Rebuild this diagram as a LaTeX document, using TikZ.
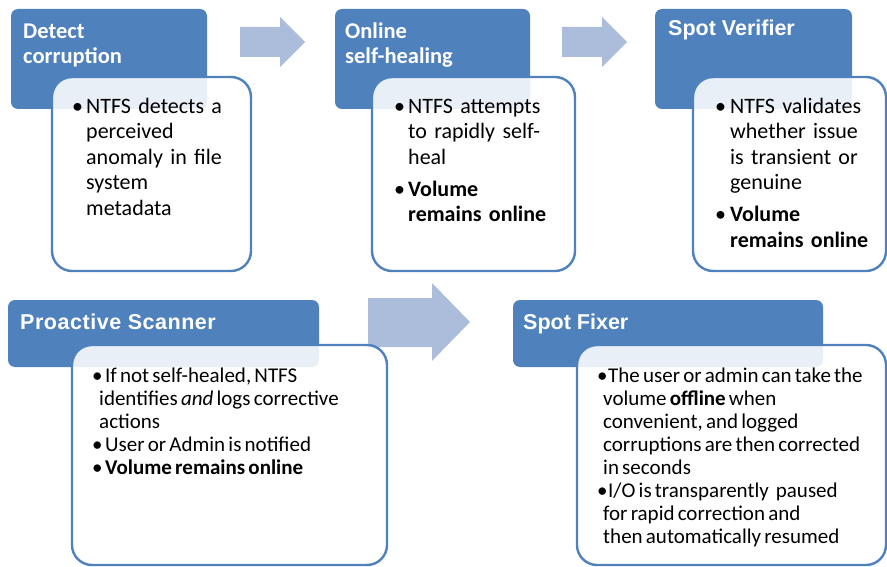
\documentclass[tikz,border=0pt]{standalone}
\usepackage{fontspec}
\setmainfont{Carlito}
\newfontfamily\hdfont{Liberation Sans}
\usepackage{xcolor}

\definecolor{hdblue}{RGB}{79,129,189}
\definecolor{flowblue}{RGB}{172,189,220}

% bullet item: bullet box width, hanging indent, text
\newcommand{\bitem}[3]{\hangindent=#2\hangafter=1\noindent\makebox[#1][l]{\strut\textbullet}#3\par}
\newcommand{\nl}{\hfil\break}

\tikzset{
	head/.style={fill=hdblue, rounded corners=7pt},
	card/.style={draw=hdblue, line width=2.4pt, fill=white, fill opacity=0.88, rounded corners=20pt},
	flow/.style={fill=flowblue},
	title/.style={text=white, anchor=north west, inner sep=0pt, align=left,
		font=\fontsize{22.5}{25}\selectfont\bfseries},
	wtitle/.style={title, font=\hdfont\fontsize{21.5}{25}\selectfont\bfseries},
	body/.style={anchor=north west, inner sep=0pt, text width=#1, align=left,
		font=\fontsize{22}{25.5}\selectfont,
		execute at begin node={\setlength{\parskip}{6.5pt}}},
	smallbody/.style={body=#1, font=\fontsize{21}{23}\selectfont,
		execute at begin node={\setlength{\parskip}{0pt}\spaceskip=3.2pt plus 1pt minus 1pt}}
}

\begin{document}
\begin{tikzpicture}[x=1pt, y=-1pt]
		\useasboundingbox (0,0) rectangle (887,567);
		% title blocks
		\fill[head] (11,9) rectangle (207,109);
		\fill[head] (335,9) rectangle (530,109);
		\fill[head] (655,9) rectangle (852,109);
		\fill[head] (8,300) rectangle (319,367);
		\fill[head] (513,300) rectangle (823,367);
		% step arrows
		\foreach \dx in {0,322}
			\fill[flow, xshift=\dx] (240,27) -- (280,27) -- (280,17) -- (305,42)
				-- (280,67) -- (280,57) -- (240,57) -- cycle;
		\fill[flow] (368,298) -- (432,298) -- (432,283) -- (470,322)
			-- (432,361) -- (432,347) -- (368,347) -- cycle;
		% text cards
		\draw[card] (52,77) rectangle (251,271);
		\draw[card] (372,77) rectangle (575,271);
		\draw[card] (693,77) rectangle (886,271);
		\draw[card] (72,345) rectangle (387,565);
		\draw[card] (577,345) rectangle (886,565);
		% titles
		\node[title] (detect) at (23,20.5) {\strut Detect\\corruption};
		\node[title] (heal) at (345,20.5) {\strut Online\\self-healing};
		\node[wtitle] (verify) at (668,17.5) {\strut Spot Verifier};
		\node[wtitle] (scan) at (20,311.5) {\addfontfeature{LetterSpace=2.5}\strut Proactive Scanner};
		\node[wtitle] (fix) at (523,311.5) {\strut Spot Fixer};
		% card texts
		\node[body=175pt] (detecttxt) at (72,95.15)
			{\bitem{14pt}{14pt}{NTFS detects a\nl perceived\nl anomaly in file\nl system\nl metadata}};
		\node[body=175pt] (healtxt) at (394,95.15)
			{\bitem{14pt}{14pt}{NTFS attempts\nl to rapidly self-\nl heal}%
			 \bitem{14pt}{14pt}{\textbf{Volume\nl remains online}}};
		\node[body=165pt] (verifytxt) at (715,95.15)
			{\bitem{15pt}{15pt}{NTFS validates\nl whether issue\nl is transient or\nl genuine}%
			 \bitem{15pt}{15pt}{\textbf{Volume\nl remains online}}};
		\node[smallbody=285pt] (scantxt) at (92,365.9)
			{\bitem{13pt}{7pt}{If not self-healed, NTFS\nl identifies \textit{and} logs corrective\nl actions}%
			 \bitem{13pt}{7pt}{User or Admin is notified}%
			 \bitem{13pt}{7pt}{\textbf{Volume remains online}}};
		\node[smallbody=320pt] (fixtxt) at (597,365.9)
			{\bitem{11pt}{6pt}{The user or admin can take the\nl volume \textbf{offline} when\nl convenient, and logged\nl corruptions are then corrected\nl in seconds}%
			 \bitem{11pt}{6pt}{I/O is transparently\hspace{7pt}paused\nl for rapid correction and\nl then automatically resumed}};
	\end{tikzpicture}
\end{document}
